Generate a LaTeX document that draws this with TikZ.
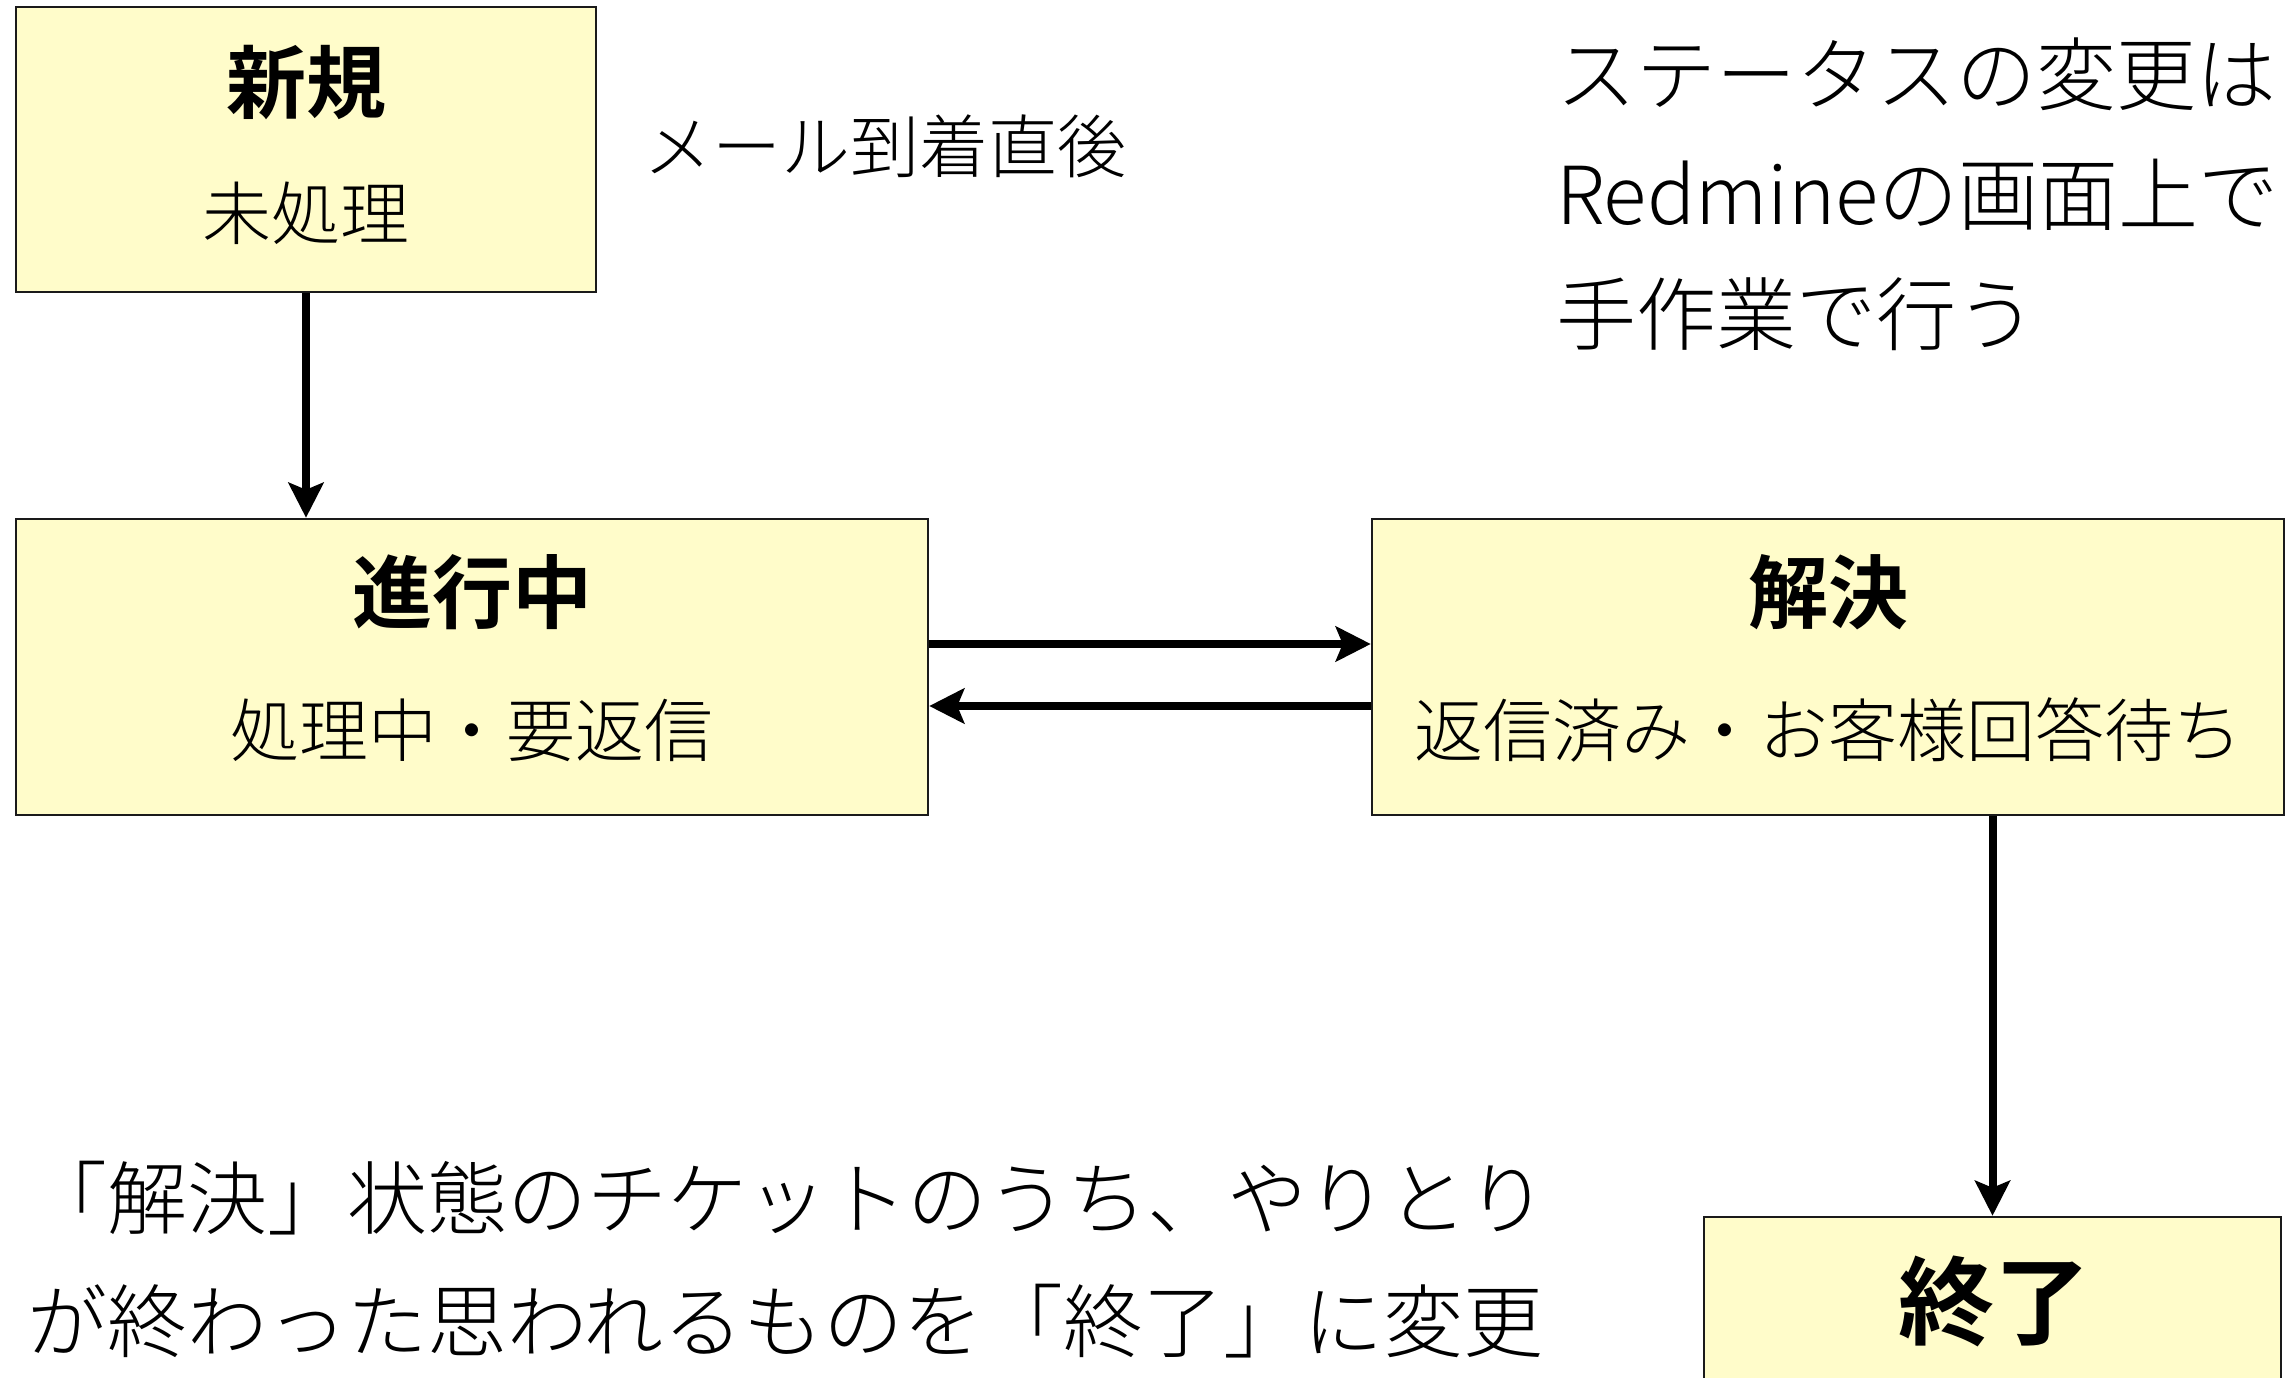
\documentclass[tikz,border=0pt]{standalone}
\usepackage{fontspec}
\setmainfont{Noto Sans CJK JP Light}[BoldFont={Noto Sans CJK JP Bold}]
\usetikzlibrary{arrows.meta}
\definecolor{boxfill}{HTML}{FFFCCA}
\definecolor{boxline}{HTML}{1A1A1A}
\begin{document}
\begin{tikzpicture}[x=1pt,y=-1pt,
  box/.style={draw=boxline, line width=2.5pt, fill=boxfill, inner sep=0pt},
  ttl/.style={font=\fontsize{80pt}{96pt}\selectfont\bfseries, inner sep=0pt},
  subt/.style={font=\fontsize{69pt}{83pt}\selectfont, inner sep=0pt},
  note/.style={font=\fontsize{80pt}{120pt}\selectfont, align=left, inner sep=0pt, anchor=west},
  arr/.style={line width=8pt, -{Stealth[length=35pt,width=35pt,inset=7pt]}}]
\useasboundingbox (0,0) rectangle (2291,1378);
\clip (0,0) rectangle (2291,1378);
\fill[white] (0,0) rectangle (2291,1378);
% boxes
\node[box, minimum width=580pt, minimum height=285pt] (new) at (306,149.5) {};
\node[box, minimum width=912pt, minimum height=296pt] (prog) at (472,667) {};
\node[box, minimum width=912pt, minimum height=296pt] (res) at (1828,667) {};
\node[box, minimum width=577pt, minimum height=300pt] (fin) at (1992.5,1367) {};
% texts in boxes
\node[ttl] (newT) at (306,83) {新規};
\node[subt] (newS) at (306,213) {未処理};
\node[ttl] (progT) at (472,592) {進行中};
\node[subt] (progS) at (472,730) {処理中・要返信};
\node[ttl] (resT) at (1828,592) {解決};
\node[subt] (resS) at (1828,730) {返信済み・お客様回答待ち};
\node[ttl, font=\fontsize{96pt}{110pt}\selectfont\bfseries] (finT) at (1994,1301) {終了};
% notes
\node[subt, anchor=west] (mail) at (643,146) {メール到着直後};
\node[note, font=\fontsize{80pt}{120pt}\selectfont] (manual) at (1556,194) {ステータスの変更は\\Redmineの画面上で\\手作業で行う};
\node[note, font=\fontsize{80pt}{123pt}\selectfont] (rule) at (27,1259.5) {「解決」状態のチケットのうち、やりとり\\が終わった思われるものを「終了」に変更};
% arrows
\draw[arr] (new.south) -- (new.south |- prog.north);
\draw[arr] ([yshift=23pt]prog.east) -- ([yshift=23pt]res.west);
\draw[arr] ([yshift=-39pt]res.west) -- ([yshift=-39pt]prog.east);
\draw[arr] (fin.north |- res.south) -- (fin.north);
\end{tikzpicture}
\end{document}
